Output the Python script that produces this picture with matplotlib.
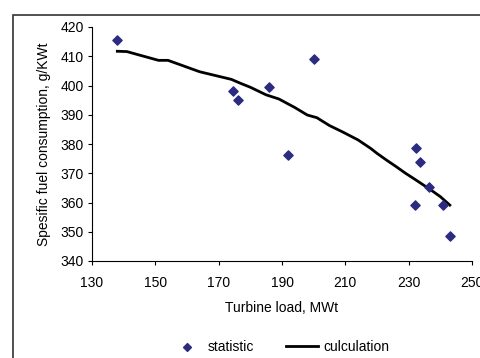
import matplotlib
matplotlib.use("Agg")
import matplotlib.pyplot as plt
from matplotlib.patches import Rectangle

plt.rcParams['font.family'] = ['Liberation Sans', 'DejaVu Sans']

# measured points
stat_load = [138, 174.5, 176, 186, 192, 200, 232.3, 233.6, 236.4, 232, 240.8, 243]
stat_sfc = [415.6, 398, 395, 399.5, 376.2, 409.2, 378.6, 373.8, 365.3, 359.1, 359.1, 348.5]

# calculated curve
calc_load = [138, 141, 145, 151, 154, 164, 174, 177, 180, 185, 189, 194, 198, 201,
             205, 209, 214, 218, 220, 223, 226, 229, 232, 237, 240, 243]
calc_sfc = [411.7, 411.6, 410.4, 408.6, 408.6, 404.7, 402.1, 400.7, 399.4, 396.8, 395.4,
            392.5, 389.9, 389.0, 386.3, 384.2, 381.4, 378.5, 376.8, 374.5, 372.3, 370.0,
            367.9, 364.3, 362.0, 359.1]

xticks = [130, 150, 170, 190, 210, 230, 250]
yticks = [340, 350, 360, 370, 380, 390, 400, 410, 420]

fig = plt.figure(figsize=(4.8, 3.58), dpi=100)
# chart area frame (cut off at right/bottom like the original)
top = 1 - 15/358
fig.patches.append(Rectangle((13/480, -0.2), 1.2, top + 0.2, transform=fig.transFigure,
                             fill=False, edgecolor="#333333", linewidth=1.2))

ax = fig.add_axes([92/480, 1 - 261/358, 380/480, 234/358])
ax.scatter(stat_load, stat_sfc, marker="D", s=22, color="#2b2b7f", label="statistic", zorder=3)
ax.plot(calc_load, calc_sfc, color="black", linewidth=2, label="culculation")

ax.set_xlim(130, 250)
ax.set_ylim(340, 420)
ax.set_xticks(xticks)
ax.set_yticks(yticks)
ax.spines["top"].set_visible(False)
ax.spines["right"].set_visible(False)
ax.tick_params(direction="out", length=3, width=0.8, labelsize=10, colors="black", pad=3)
ax.tick_params(axis="x", pad=8)
ax.set_xlabel("Turbine load, MWt", fontsize=10, labelpad=8)
ax.set_ylabel("Spesific fuel consumption, g/KWt", fontsize=10, labelpad=7)

leg = fig.legend(loc="center", bbox_to_anchor=(280/480, 1 - 347/358), ncol=2, frameon=False,
                 fontsize=10, handlelength=2.3, columnspacing=2.3, handletextpad=0.35,
                 scatterpoints=1)
leg.legend_handles[0].set_sizes([16])

fig.savefig("out.png", dpi=100)
